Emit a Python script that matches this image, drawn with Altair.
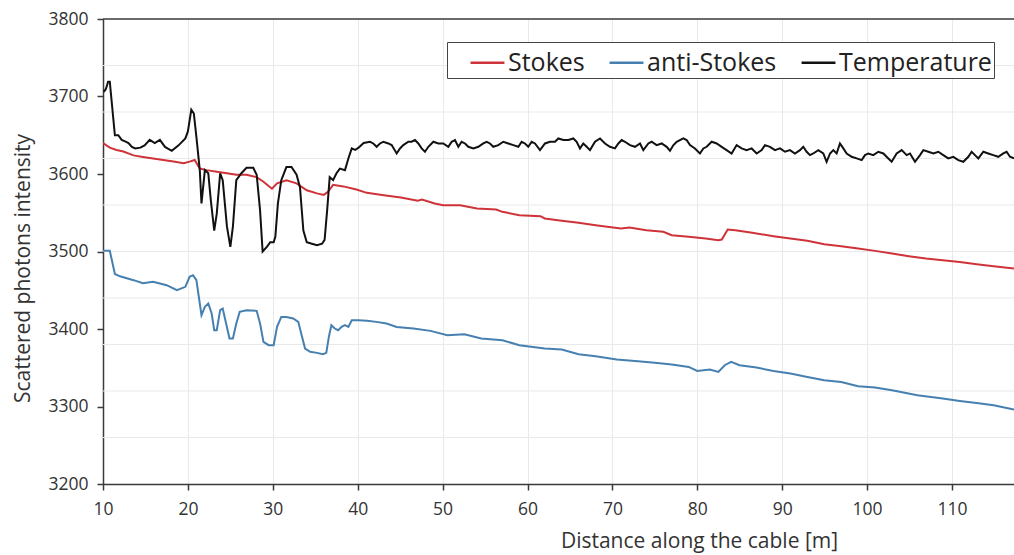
import altair as alt
import pandas as pd

# ---------------- data ----------------
temp_x = [10.1, 10.35, 10.6, 10.8, 11.4, 11.8, 12.2, 12.6, 13.0, 13.4, 13.8, 14.4, 14.9, 15.5, 16.1,
          16.7, 17.3, 18.1, 18.9, 19.7, 20.0, 20.4, 20.7, 21.0, 21.4, 21.6, 22.0, 22.4, 22.7, 23.1,
          23.4, 23.8, 24.1, 24.6, 25.0, 25.3, 25.7, 26.3, 26.9, 27.7, 28.1, 28.5, 28.8, 29.3, 29.7,
          30.1, 30.3, 30.6, 31.0, 31.6, 32.2, 32.8, 33.2, 33.6, 34.0, 34.6, 35.2, 35.8, 36.1, 36.4,
          36.7, 37.1, 37.5, 37.9, 38.5, 38.9, 39.3, 39.7, 40.1, 40.7,
          41.45, 41.84, 42.23, 42.62, 43.02, 43.61, 44.00, 44.59, 44.98, 45.37, 45.96, 46.35, 46.75,
          47.14, 47.53, 47.92, 48.32, 48.91, 49.49, 50.08, 50.67, 51.07, 51.46, 51.85, 52.24, 52.64,
          53.03, 53.62, 54.21, 54.79, 55.19, 55.58, 55.97, 56.56, 57.15, 57.74, 58.33, 58.92, 59.31,
          59.70, 60.09, 60.49, 60.88, 61.47, 62.06, 62.65, 63.24, 63.63, 64.22, 64.81, 65.40, 65.79,
          66.18, 66.57, 66.97, 67.36, 67.95, 68.54, 69.13, 69.71, 70.30, 70.70, 71.09, 71.48, 72.07,
          72.66, 73.25, 73.64, 74.23, 74.62, 75.21, 75.80, 76.39, 76.78, 77.17, 77.57,
          78.35, 78.74, 79.14, 79.72, 80.31, 80.71, 81.10, 81.69, 82.28, 82.87, 83.45, 84.04, 84.63,
          85.22, 85.81, 86.40, 86.99, 87.58, 87.97, 88.56, 89.15, 89.74, 90.33, 90.91, 91.50, 92.09,
          92.48, 92.88, 93.27, 93.66, 94.25, 94.84, 95.23, 95.63, 96.02, 96.41, 96.80, 97.20, 97.59,
          98.18, 98.77, 99.36, 99.75, 100.14, 100.73, 101.32, 101.91, 102.50, 102.89, 103.48, 104.07,
          104.66, 105.05, 105.64, 106.23, 106.62, 107.21, 107.80, 108.39, 108.97, 109.56, 110.15,
          110.74, 111.33, 111.92, 112.31, 112.70, 113.10, 113.69, 114.27, 114.86, 115.45, 116.04,
          116.43, 116.83, 117.30]
temp_y = [3706, 3710, 3719, 3719, 3650, 3650, 3644, 3642, 3640, 3635, 3633, 3634, 3637, 3644, 3640,
          3644, 3635, 3630, 3637, 3646, 3655, 3683, 3678, 3648, 3605, 3562, 3605, 3601, 3566, 3527,
          3549, 3601, 3592, 3532, 3506, 3532, 3592, 3601, 3608, 3608, 3599, 3553, 3500, 3506, 3512,
          3512, 3519, 3562, 3592, 3609, 3609, 3599, 3583, 3527, 3512, 3510, 3508, 3510, 3515, 3553,
          3596, 3592, 3601, 3607, 3605, 3620, 3633, 3631, 3634, 3640,
          3641.6, 3639.4, 3635.1, 3639.4, 3641.6, 3639.4, 3637.3, 3626.5, 3633.0, 3637.3, 3641.6,
          3641.6, 3643.8, 3639.4, 3633.0, 3628.7, 3635.1, 3641.6, 3639.4, 3639.4, 3635.1, 3641.6,
          3643.8, 3635.1, 3641.6, 3639.4, 3635.1, 3633.0, 3635.1, 3639.4, 3641.6, 3639.4, 3635.1,
          3637.3, 3641.6, 3639.4, 3637.3, 3635.1, 3641.6, 3639.4, 3635.1, 3641.6, 3639.4, 3630.8,
          3639.4, 3641.6, 3641.6, 3645.9, 3643.8, 3643.8, 3645.9, 3641.6, 3633.0, 3639.4, 3635.1,
          3630.8, 3641.6, 3645.9, 3639.4, 3635.1, 3633.0, 3639.4, 3643.8, 3641.6, 3637.3, 3635.1,
          3639.4, 3630.8, 3639.4, 3641.6, 3637.3, 3639.4, 3635.1, 3630.0, 3637.0, 3641.6,
          3645.9, 3643.8, 3637.3, 3633.0, 3626.5, 3633.0, 3635.1, 3641.6, 3639.4, 3635.1, 3630.8,
          3626.5, 3637.3, 3633.0, 3630.8, 3633.0, 3626.5, 3630.8, 3637.3, 3635.1, 3630.8, 3633.0,
          3628.7, 3630.8, 3626.5, 3630.8, 3635.1, 3628.7, 3624.4, 3626.5, 3630.8, 3626.5, 3615.8,
          3626.5, 3630.8, 3626.5, 3639.4, 3633.0, 3626.5, 3622.2, 3620.1, 3617.9, 3624.4, 3626.5,
          3624.4, 3628.7, 3626.5, 3620.1, 3615.8, 3626.5, 3630.8, 3624.4, 3626.5, 3615.8, 3624.4,
          3630.8, 3628.7, 3626.5, 3628.7, 3624.4, 3620.1, 3622.2, 3617.9, 3615.8, 3622.2, 3628.7,
          3624.4, 3620.1, 3628.7, 3626.5, 3624.4, 3622.2, 3626.5, 3628.7, 3622.2, 3620.1]

stokes_x = [10.0, 10.8, 11.6, 12.4, 13.6, 14.7, 15.9, 17.1, 18.3, 19.5, 20.2, 20.8, 21.4, 22.2, 23.4,
            24.6, 25.7, 26.9, 28.1, 28.9, 29.9, 30.5, 31.6, 32.8, 34.0, 35.2, 36.0, 36.5, 37.1, 38.3,
            39.84, 41.08, 43.08, 45.08, 47.07, 47.57, 49.07, 50.06, 52.06, 54.05, 56.30, 57.05, 59.04,
            61.53, 62.03, 64.03, 66.02, 68.02, 71.01, 72.01, 74.00, 75.99, 76.99, 78.99, 80.98, 82.48,
            82.88, 83.58, 84.48, 86.47, 88.97, 90.96, 92.96, 94.95, 96.95, 98.94, 100.94, 102.93,
            104.92, 106.92, 108.91, 110.91, 112.90, 114.90, 117.29]
stokes_y = [3640, 3634, 3631, 3629, 3624, 3622, 3620, 3618, 3616, 3614, 3616, 3618, 3607, 3605, 3603,
            3601, 3599, 3599, 3596, 3590, 3581, 3588, 3592, 3588, 3579, 3575, 3573, 3577, 3586, 3584,
            3580.0, 3575.7, 3572.7, 3569.7, 3565.4, 3567.1, 3562.0, 3559.8, 3559.8, 3555.5, 3554.2,
            3551.2, 3546.9, 3545.6, 3542.6, 3539.6, 3537.0, 3534.0, 3529.7, 3531.0, 3527.5, 3525.4,
            3521.1, 3518.9, 3516.8, 3514.6, 3515.5, 3528.4, 3527.5, 3524.1, 3519.8, 3516.8, 3513.8,
            3509.5, 3506.9, 3503.9, 3500.8, 3497.4, 3494.0, 3491.0, 3488.8, 3486.6, 3483.6, 3481.0,
            3478.0]

anti_x = [10.0, 10.8, 11.4, 12.0, 13.6, 14.7, 15.9, 17.5, 18.7, 19.7, 20.2, 20.6, 21.0, 21.4, 21.6,
          22.0, 22.4, 22.8, 23.1, 23.4, 23.8, 24.1, 24.5, 24.9, 25.3, 25.7, 26.1, 26.9, 28.1, 28.5,
          28.9, 29.5, 30.1, 30.5, 31.0, 31.6, 32.4, 33.0, 33.4, 33.8, 34.4, 35.2, 35.9, 36.3, 36.6,
          36.9, 37.3, 37.7, 38.1, 38.5, 38.9, 39.3, 40.1, 41.1, 42.2, 43.4,
          44.58, 46.57, 48.57, 50.56, 52.56, 54.55, 57.05, 59.04, 62.03, 64.03, 66.02, 68.02, 70.51,
          73.00, 75.00, 76.99, 78.99, 79.99, 81.48, 82.48, 83.23, 83.98, 84.98, 86.97, 88.97, 90.96,
          92.96, 94.95, 96.95, 98.94, 100.94, 102.93, 105.92, 108.91, 110.91, 112.90, 114.90, 117.29]
anti_y = [3501, 3501, 3471, 3468, 3463, 3459, 3461, 3456.5, 3450.1, 3454.4, 3467.3, 3469.4, 3463.0,
          3432.9, 3417.8, 3428.6, 3432.9, 3420.0, 3398.4, 3398.4, 3424.3, 3426.4, 3407.0, 3387.7,
          3387.7, 3407.0, 3422.1, 3424.3, 3423.4, 3407.0, 3383.4, 3379.1, 3379.1, 3402.7, 3415.6,
          3415.6, 3413.5, 3409.2, 3392.0, 3374.8, 3370.5, 3369.2, 3367.4, 3369.2, 3389.8, 3404.9,
          3400.6, 3398.4, 3402.7, 3404.9, 3402.7, 3411.3, 3411.3, 3410.5, 3409.2, 3407.0,
          3402.7, 3400.6, 3397.6, 3392.0, 3393.3, 3387.7, 3385.5, 3379.1, 3374.8, 3373.5, 3367.5,
          3364.9, 3360.6, 3358.4, 3356.3, 3354.1, 3351.1, 3345.9, 3347.7, 3344.6, 3353.3, 3357.6,
          3353.3, 3350.2, 3345.9, 3342.5, 3338.2, 3333.9, 3331.7, 3326.1, 3324.4, 3321.0, 3314.5,
          3310.2, 3307.2, 3304.6, 3301.6, 3296.0]

series_names = ["Stokes", "anti-Stokes", "Temperature"]
series_colors = ["#cf333a", "#4680b0", "#111111"]

x_ticks = [10, 20, 30, 40, 50, 60, 70, 80, 90, 100, 110]
y_ticks = [3200, 3300, 3400, 3500, 3600, 3700, 3800]
h_grid = [3260, 3320, 3380, 3440, 3500, 3560, 3620, 3680, 3740]
x_domain = [10, 117.3]
y_domain = [3200, 3800]

# ---------------- build table ----------------
rows = []
for name, xs, ys in [("Stokes", stokes_x, stokes_y),
                     ("anti-Stokes", anti_x, anti_y),
                     ("Temperature", temp_x, temp_y)]:
    for i, (xv, yv) in enumerate(zip(xs, ys)):
        rows.append({"x": xv, "y": yv, "series": name, "i": i})
df = pd.DataFrame(rows)

FONT = "Open Sans"
xscale = alt.Scale(domain=x_domain, nice=False, zero=False)
yscale = alt.Scale(domain=y_domain, nice=False, zero=False)

y_axis = alt.Axis(values=y_ticks, format="d", title="Scattered photons intensity", grid=False,
                  titleX=-80, titleY=249, titleAngle=-90, titleAlign="center",
                  titleBaseline="middle", labelPadding=9)
x_axis = alt.Axis(values=x_ticks, format="d", title="Distance along  the cable [m]",
                  grid=True, gridColor="#e9e9e9", labelFlush=False,
                  titleX=596, titleY=63, titleAnchor="start", titleAlign="center",
                  titleBaseline="alphabetic", labelPadding=10)

grid = alt.Chart(pd.DataFrame({"y": h_grid})).mark_rule(
    color="#e9e9e9", strokeWidth=1
).encode(y=alt.Y("y:Q", scale=yscale, axis=y_axis))

top = alt.Chart(pd.DataFrame({"y": [y_domain[1]]})).mark_rule(
    color="#3a3a3a", strokeWidth=1.5
).encode(y=alt.Y("y:Q", scale=yscale, axis=y_axis))

lines = alt.Chart(df).mark_line(strokeWidth=2, clip=True).encode(
    x=alt.X("x:Q", scale=xscale, axis=x_axis),
    y=alt.Y("y:Q", scale=yscale, axis=y_axis),
    color=alt.Color("series:N",
                    scale=alt.Scale(domain=series_names, range=series_colors),
                    sort=series_names,
                    legend=alt.Legend(title=None, orient="none", legendX=344, legendY=23,
                                      direction="horizontal", symbolType="stroke",
                                      symbolSize=1150, symbolStrokeWidth=2.5,
                                      symbolOffset=20, labelOffset=2, columnPadding=3,
                                      labelFontSize=25, labelFont=FONT, labelColor="#222",
                                      fillColor="white", strokeColor="#444", padding=2)),
    order=alt.Order("i:Q"),
)

chart = alt.layer(grid, top, lines).properties(
    width=911, height=465,
    autosize=alt.AutoSizeParams(type="none"),
    padding={"left": 103, "top": 19, "right": 0, "bottom": 71},
    background="white",
).configure_view(stroke=None).configure_axis(
    labelFont=FONT, titleFont=FONT, labelFontSize=17.5, titleFontSize=21,
    labelColor="#333", titleColor="#333", titleFontWeight="normal",
    domainColor="#3a3a3a", domainWidth=1.5, tickColor="#3a3a3a", tickSize=6, tickWidth=1.5,
)

chart.save("out.html", embed_options={"renderer": "svg", "actions": False})
